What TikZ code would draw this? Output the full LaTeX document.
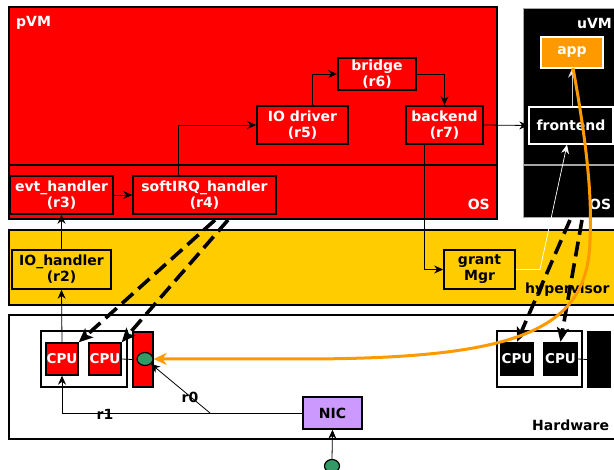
\documentclass[tikz,border=0pt]{standalone}
\usepackage{fontspec}
\setmainfont{DejaVu Sans}
\usetikzlibrary{arrows.meta,shapes.geometric}
\definecolor{pvmred}{HTML}{FF0000}
\definecolor{hvyellow}{HTML}{FFCC00}
\definecolor{apporange}{HTML}{FF9900}
\definecolor{nicpurple}{HTML}{CC99FF}
\definecolor{dotgreen}{HTML}{339966}
\tikzset{
  lbl/.style={font=\bfseries\fontsize{14}{16}\selectfont, inner sep=0pt},
  boxbase/.style={lbl, draw=black, line width=1.6pt, align=center},
  redbox/.style={boxbase, fill=pvmred, text=white},
  yelbox/.style={boxbase, fill=hvyellow, text=black},
  wbox/.style={boxbase, draw=white, line width=1.4pt},
  cpubox/.style={draw=black, line width=1.4pt, minimum width=32pt, minimum height=32pt, inner sep=0pt,
     text=white, font=\bfseries\fontsize{13.5}{15}\selectfont},
  grpbox/.style={draw=black, line width=1.4pt, fill=white, inner sep=0pt},
  bigbox/.style={draw=black, line width=1.6pt},
  conn/.style={line width=0.8pt, -{Stealth[length=9pt,width=8pt]}},
  dashconn/.style={line width=3.6pt, dash pattern=on 15pt off 7pt, -{Stealth[length=14pt,width=12pt,inset=3pt]}},
  dotnode/.style={ellipse, draw=black, line width=1.2pt, fill=dotgreen, minimum width=16pt, minimum height=13pt, inner sep=0pt},
}
\begin{document}
\begin{tikzpicture}[x=1pt,y=-1pt]
\useasboundingbox (0,0) rectangle (614,470);
% big regions
\draw[bigbox, fill=pvmred] (9,7) rectangle (497,219);
\draw[line width=1.4pt] (9,165) -- (497,165);
\draw[draw=gray!70, line width=1pt, fill=black] (523,9) rectangle (640,218);
\draw[draw=gray!70, line width=1.2pt] (523,165) -- (640,165);
\draw[bigbox, fill=hvyellow] (9,230) rectangle (640,305);
\draw[bigbox, fill=white] (9,315) rectangle (640,439);
% region labels
\node[lbl, text=white, anchor=west] (lpvm) at (16,23) {pVM};
\node[lbl, text=white, anchor=east] (lpos) at (490,204) {OS};
\node[lbl, text=white, anchor=east] (luvm) at (612,23) {uVM};
\node[lbl, text=white, anchor=west] (luos) at (589,204) {OS};
\node[lbl, text=black, anchor=west] (lhyp) at (525,290) {hypervisor};
\node[lbl, text=black, anchor=west] (lhw) at (532,425) {Hardware};
% pVM nodes
\node[redbox, minimum width=103pt, minimum height=38pt] (evt) at (61.5,195) {evt\_handler\\(r3)};
\node[redbox, minimum width=143pt, minimum height=38pt] (soft) at (204.5,195) {softIRQ\_handler\\(r4)};
\node[redbox, minimum width=91pt, minimum height=38pt] (iodrv) at (302.5,125) {IO driver\\(r5)};
\node[redbox, minimum width=78pt, minimum height=32pt] (bridge) at (377,74) {bridge\\(r6)};
\node[redbox, minimum width=77pt, minimum height=38pt] (backend) at (444.5,125) {backend\\(r7)};
% uVM nodes
\node[wbox, fill=apporange, text=white, minimum width=62pt, minimum height=31pt] (app) at (572,52.5) {app};
\node[wbox, fill=black, text=white, minimum width=84pt, minimum height=37pt] (frontend) at (571,125.5) {frontend};
% hypervisor nodes
\node[yelbox, minimum width=99pt, minimum height=39pt] (ioh) at (61.5,269.5) {IO\_handler\\(r2)};
\node[yelbox, minimum width=71pt, minimum height=39pt] (grant) at (479.5,269.5) {grant\\Mgr};
% hardware
\node[grpbox, minimum width=86pt, minimum height=56pt] (cpug) at (84,359) {};
\node[cpubox, fill=pvmred] (cpu1) at (62,359) {CPU};
\node[cpubox, fill=pvmred] (cpu2) at (105,359) {CPU};
\node[draw=black, line width=1.4pt, fill=pvmred, minimum width=20pt, minimum height=55pt, inner sep=0pt] (redbar) at (143,359.5) {};
\node[dotnode] (dot) at (145,359) {};
\node[grpbox, minimum width=85pt, minimum height=56pt] (ucpug) at (539.5,359) {};
\node[cpubox, fill=black, minimum width=33pt, minimum height=33pt] (ucpu1) at (517,359) {CPU};
\node[cpubox, fill=black, minimum width=33pt, minimum height=33pt] (ucpu2) at (560.5,359) {CPU};
\node[draw=black, line width=1.4pt, fill=black, minimum width=22pt, minimum height=55pt, inner sep=0pt] (blackbar) at (599,359.5) {};
\node[boxbase, fill=nicpurple, minimum width=59pt, minimum height=32pt] (nic) at (332.5,413) {NIC};
\node[dotnode, minimum width=15pt] (dot2) at (332,466) {};
% helper coordinates
\coordinate (k1) at (178,125);
\coordinate (k2) at (312,74);
\coordinate (k3) at (424,270);
\coordinate (k4) at (540,269.5);
\coordinate (k5) at (567,144);
\coordinate (r1turn) at (62,413);
\coordinate (r0s) at (210,413);
\coordinate (d1) at (215,220);
\coordinate (d2) at (228,220);
\coordinate (d3) at (570,220);
\coordinate (d4) at (582,220);
% thin connectors
\draw[conn] (ioh.north) -- (evt.south);
\draw[conn] (evt.east) -- (soft.west);
\draw[conn] (soft.north -| k1) |- (iodrv.west);
\draw[conn] (iodrv.north -| k2) |- (bridge.west);
\draw[conn] (bridge.east) -| (backend.north);
\draw[conn] (backend.east) -- (frontend.west);
\draw[conn] (backend.south -| k3) |- (grant.west);
\draw[conn, draw=white, line width=0.7pt, -{Stealth[length=9pt,width=8pt,fill=white]}] (grant.east) -- (k4) -- (frontend.south -| k5);
\draw[conn, draw=gray!40, line width=0.8pt, -{Stealth[length=9pt,width=8pt,fill=white]}] (frontend.north -| app.south) -- (app.south);
\draw[conn] (cpu1.north) -- (ioh.south);
\draw[line width=0.8pt] (nic.west) -- (r1turn);
\draw[conn] (r1turn) -- (cpu1.south);
\draw[conn] (r0s) -- (dot.south east);
\draw[conn] (dot2.north) -- (nic.south);
\draw[line width=0.8pt] (cpu2.east) -- (redbar.west);
\draw[line width=0.8pt] (ucpu2.east) -- (blackbar.west);
\node[lbl, text=black] (lr1) at (105,414) {r1};
\node[lbl, text=black] (lr0) at (190,397) {r0};
% thick dashed
\draw[dashconn] (d1) -- (cpu1.north east);
\draw[dashconn] (d2) -- (cpu2.north east);
\draw[dashconn] (d3) -- (ucpu1.north);
\draw[dashconn] (d4) -- (ucpu2.north);
% orange path
\draw[apporange, line width=3pt, -{Stealth[length=13pt,width=12pt,inset=4pt]}]
  (573,68) .. controls (588,150) and (592,200) .. (590,240)
  .. controls (588,330) and (520,359) .. (300,359) -- (dot.east);
\end{tikzpicture}
\end{document}
